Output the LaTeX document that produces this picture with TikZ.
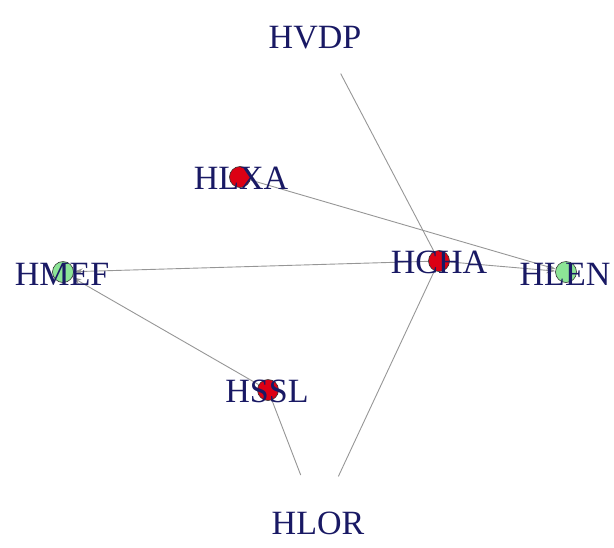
\documentclass[tikz,border=0pt]{standalone}
\usepackage{fontspec}
\setmainfont{Liberation Serif}
\usetikzlibrary{arrows.meta}
\definecolor{labelblue}{RGB}{25,25,100}
\definecolor{edgegray}{RGB}{150,150,150}
\definecolor{vred}{RGB}{220,0,20}
\definecolor{vgreen}{RGB}{140,228,150}
\pgfdeclarelayer{background}
\pgfsetlayers{background,main}
\begin{document}
\begin{tikzpicture}[x=1pt,y=-1pt,
  vert/.style={circle,draw=black!80,line width=0.6pt,minimum size=21pt,inner sep=0pt},
  ghost/.style={circle,minimum size=#1,inner sep=0pt},
  lbl/.style={text=labelblue,font=\fontsize{34}{34}\selectfont,inner sep=0pt},
  edge/.style={draw=edgegray,line width=0.9pt},
  arr/.style={edge,-{Stealth[length=9pt,width=6pt]}}]
\useasboundingbox (0,0) rectangle (614,547);

% vertices
\node[vert,fill=vred]   (hlxa) at (240,177) {};
\node[vert,fill=vred]   (hcha) at (439,261) {};
\node[vert,fill=vgreen] (hlen) at (566,272) {};
\node[vert,fill=vgreen] (hmef) at (63,272) {};
\node[vert,fill=vred]   (hssl) at (268,390) {};
\node[ghost=80pt] (hvdp) at (322,38) {};
\node[ghost=96pt] (hlor) at (318,520) {};

% edges
\begin{pgfonlayer}{background}
\draw[edge] (hvdp) -- (hcha);
\draw[edge] (hlor) -- (hssl);
\draw[edge] (hlor) -- (hcha);
\draw[arr] (hlxa) -- (hlen);
\draw[arr] (hcha) -- (hlen);
\draw[arr] (hcha) -- (hmef);
\draw[arr] (hssl) -- (hmef);
\end{pgfonlayer}

% labels
\node[lbl] (thlxa) at (241,178) {HLXA};
\node[lbl] (thcha) at (439,262) {HCHA};
\node[lbl] (thlen) at (565,274) {HLEN};
\node[lbl] (thmef) at (62,274) {HMEF};
\node[lbl] (thssl) at (267,391) {HSSL};
\node[lbl] (thvdp) at (315,38) {HVDP};
\node[lbl] (thlor) at (318,523) {HLOR};
\end{tikzpicture}
\end{document}
